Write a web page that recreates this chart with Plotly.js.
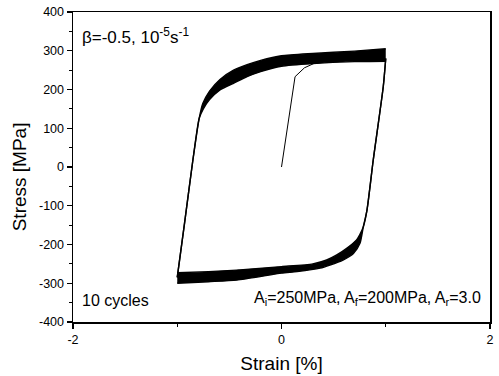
<!DOCTYPE html>
<html>
<head>
<meta charset="utf-8">
<script src="https://cdn.plot.ly/plotly-3.0.1.min.js"></script>
<style>
  html, body { margin: 0; padding: 0; background: #fff; }
  #chart { width: 499px; height: 376px; }
</style>
</head>
<body>
<div id="chart"></div>
<script>
// Initial (monotonic) loading from the origin
const initStrain = [0.00, 0.13, 0.22, 0.31, 0.40];
const initStress = [0, 233, 256, 267, 270];

// Loading branch (strain -1 -> +1): upper/left envelope of the 10 cycles
const loadOuterStrain = [-1.00, -0.93, -0.85, -0.79, -0.755, -0.69, -0.59, -0.46, -0.33, -0.20, 0.00, 0.30, 0.70, 1.00];
const loadOuterStress = [-285, -145, 18, 125, 164, 196, 226, 250, 264, 275, 287, 293, 299, 305];
// Loading branch: lower/right envelope
const loadInnerStrain = [-1.00, -0.93, -0.85, -0.79, -0.75, -0.69, -0.59, -0.46, -0.33, -0.20, 0.00, 0.30, 0.70, 1.00];
const loadInnerStress = [-285, -145, 18, 125, 150, 174, 199, 216, 233, 246, 260, 267, 272, 273];

// Unloading branch (strain +1 -> -1): lower/right envelope
const unloadOuterStrain = [1.00, 0.976, 0.88, 0.82, 0.785, 0.753, 0.69, 0.59, 0.465, 0.37, 0.15, 0.00, -0.43, -0.70, -1.00];
const unloadOuterStress = [280, 207, 18, -111, -154, -197, -223, -240, -253, -261, -270, -274, -292, -296, -300];
// Unloading branch: upper/left envelope
const unloadInnerStrain = [1.00, 0.976, 0.88, 0.82, 0.785, 0.75, 0.72, 0.625, 0.53, 0.433, 0.30, 0.00, -0.43, -0.70, -1.00];
const unloadInnerStress = [280, 207, 18, -111, -154, -175, -188, -210, -227, -240, -250, -257, -266, -270, -273];

// Axis ticks
const xTicks = [-2, 0, 2];
const yTicks = [-400, -300, -200, -100, 0, 100, 200, 300, 400];

const FONT = 'Arial, "Liberation Sans", sans-serif';
const INK = '#000';

// One envelope as a smooth line; the second one fills back to it
function edge(x, y, filled) {
  return {
    x: x, y: y, mode: 'lines',
    line: { color: INK, width: 1.4, shape: 'spline', smoothing: 0.6 },
    fill: filled ? 'tonexty' : 'none',
    fillcolor: INK,
    hoverinfo: 'skip'
  };
}

const traces = [
  edge(loadOuterStrain, loadOuterStress, false),
  edge(loadInnerStrain, loadInnerStress, true),
  edge(unloadOuterStrain, unloadOuterStress, false),
  edge(unloadInnerStrain, unloadInnerStress, true),
  {
    x: initStrain, y: initStress, mode: 'lines',
    line: { color: INK, width: 1 }, hoverinfo: 'skip'
  }
];

const axisBase = {
  showgrid: false, zeroline: false,
  showline: true, linecolor: INK, linewidth: 1.5, mirror: true,
  ticks: 'outside', ticklen: 5, tickwidth: 1.2, tickcolor: INK,
  tickfont: { family: FONT, size: 12.5, color: INK }
};

const layout = {
  width: 499, height: 376,
  margin: { l: 73, r: 9, t: 12, b: 54 },
  paper_bgcolor: '#fff', plot_bgcolor: '#fff',
  showlegend: false,
  font: { family: FONT, color: INK },
  xaxis: Object.assign({}, axisBase, {
    range: [-2, 2], tickvals: xTicks, ticktext: xTicks.map(String),
    minor: { dtick: 1, tick0: -2, ticks: 'outside', ticklen: 3, tickcolor: INK, tickwidth: 1 },
    title: { text: 'Strain [%]', font: { family: FONT, size: 19, color: INK }, standoff: 11 }
  }),
  yaxis: Object.assign({}, axisBase, {
    range: [-400, 400], tickvals: yTicks, ticktext: yTicks.map(String),
    minor: { dtick: 50, tick0: -400, ticks: 'outside', ticklen: 3, tickcolor: INK, tickwidth: 1 }
  }),
  annotations: [
    {
      // y-axis title, set a little below the middle of the axis
      xref: 'paper', yref: 'paper', x: -0.1295, y: 0.47,
      xanchor: 'center', yanchor: 'middle', showarrow: false, textangle: -90,
      text: 'Stress [MPa]',
      font: { family: FONT, size: 19, color: INK }
    },
    {
      xref: 'paper', yref: 'paper', x: 0.017, y: 0.923,
      xanchor: 'left', yanchor: 'middle', showarrow: false,
      text: 'β=-0.5, 10<sup>-5</sup>s<sup>-1</sup>',
      font: { family: FONT, size: 17, color: INK }
    },
    {
      xref: 'paper', yref: 'paper', x: 0.017, y: 0.068,
      xanchor: 'left', yanchor: 'middle', showarrow: false,
      text: '10 cycles',
      font: { family: FONT, size: 16, color: INK }
    },
    {
      xref: 'paper', yref: 'paper', x: 0.983, y: 0.075,
      xanchor: 'right', yanchor: 'middle', showarrow: false,
      text: 'A<sub>i</sub>=250MPa, A<sub>f</sub>=200MPa, A<sub>r</sub>=3.0',
      font: { family: FONT, size: 16, color: INK }
    }
  ]
};

Plotly.newPlot('chart', traces, layout, { staticPlot: true, displayModeBar: false });
</script>
</body>
</html>
